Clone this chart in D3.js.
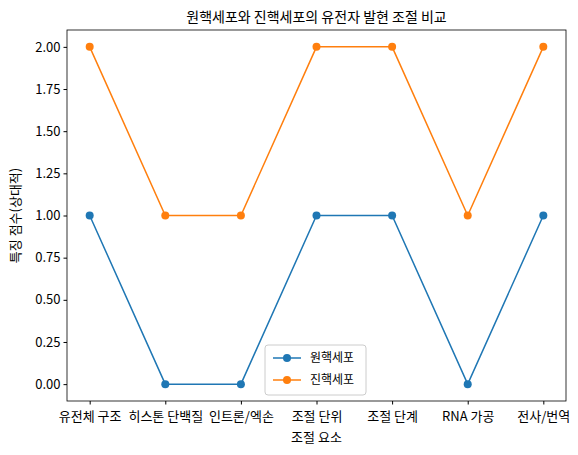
<!DOCTYPE html>
<html><head><meta charset="utf-8">
<script src="https://cdn.jsdelivr.net/npm/d3@7"></script>
<style>body{margin:0;background:#fff}text{font-family:"Noto Sans CJK KR","Noto Sans",sans-serif;fill:#000}</style>
</head><body><svg id="c" width="578" height="455"></svg>
<script>
const categories=["유전체 구조","히스톤 단백질","인트론/엑손","조절 단위","조절 단계","RNA 가공","전사/번역"];
const prokaryote=[1,0,0,1,1,0,1];
const eukaryote=[2,1,1,2,2,1,2];
const yTicks=[0,0.25,0.5,0.75,1,1.25,1.5,1.75,2];
const series=[{name:"원핵세포",values:prokaryote,color:"#1f77b4"},{name:"진핵세포",values:eukaryote,color:"#ff7f0e"}];
const L=67,R=566,T=30,B=401;
const svg=d3.select("#c");
const x=d3.scaleLinear().domain([-0.3,6.3]).range([L,R]);
const y=d3.scaleLinear().domain([-0.1,2.1]).range([B,T]);
const xa=svg.append("g").attr("transform",`translate(0,${B})`).call(d3.axisBottom(x).tickValues(d3.range(7)).tickFormat(i=>categories[i]).tickSizeOuter(0).tickSize(3.5));
const ya=svg.append("g").attr("transform",`translate(${L},0)`).call(d3.axisLeft(y).tickValues(yTicks).tickFormat(d3.format(".2f")).tickSizeOuter(0).tickSize(3.5));
[xa,ya].forEach(a=>{a.selectAll("text").style("font-size","13px");a.select(".domain").remove();});
xa.selectAll("text").attr("dy","1.0em");
svg.append("rect").attr("x",L).attr("y",T).attr("width",R-L).attr("height",B-T).attr("fill","none").attr("stroke","#000").attr("stroke-width",0.8);
const line=d3.line().x((d,i)=>x(i)).y(d=>y(d));
series.forEach(s=>{
 svg.append("path").attr("d",line(s.values)).attr("fill","none").attr("stroke",s.color).attr("stroke-width",1.5);
 svg.selectAll(null).data(s.values).enter().append("circle").attr("cx",(d,i)=>x(i)).attr("cy",d=>y(d)).attr("r",4).attr("fill",s.color);
});
svg.append("text").attr("x",(L+R)/2).attr("y",22).attr("text-anchor","middle").style("font-size","14px").text("원핵세포와 진핵세포의 유전자 발현 조절 비교");
svg.append("text").attr("x",(L+R)/2).attr("y",442).attr("text-anchor","middle").style("font-size","13px").text("조절 요소");
svg.append("text").attr("transform",`translate(20,${(T+B)/2}) rotate(-90)`).attr("text-anchor","middle").style("font-size","13px").text("특징 점수(상대적)");
const lg=svg.append("g").attr("transform","translate(265,345)");
lg.append("rect").attr("width",101).attr("height",50).attr("rx",3).attr("fill","#fff").attr("fill-opacity",0.8).attr("stroke","#ccc");
series.forEach((s,i)=>{
 const yy=13+i*22;
 lg.append("line").attr("x1",8).attr("x2",36).attr("y1",yy).attr("y2",yy).attr("stroke",s.color).attr("stroke-width",1.5);
 lg.append("circle").attr("cx",22).attr("cy",yy).attr("r",4).attr("fill",s.color);
 lg.append("text").attr("x",45).attr("y",yy+4).style("font-size","12px").text(s.name);
});
</script></body></html>
